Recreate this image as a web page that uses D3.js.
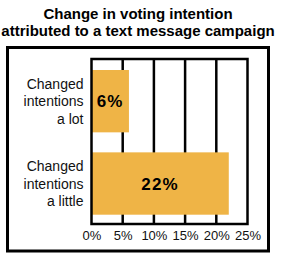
<!DOCTYPE html>
<html>
<head>
<meta charset="utf-8">
<script src="https://cdn.jsdelivr.net/npm/d3@7"></script>
<style>
  html, body { margin: 0; padding: 0; background: #fff; }
  svg { display: block; font-family: "Liberation Sans", Arial, Helvetica, sans-serif; }
</style>
</head>
<body>
<svg id="chart" width="302" height="255"></svg>
<script>
const titleLines = ["Change in voting intention", "attributed to a text message campaign"];
const categories = [
  ["Changed", "intentions", "a lot"],
  ["Changed", "intentions", "a little"]
];
const values = [6, 22];
const tickValues = [0, 5, 10, 15, 20, 25];
const tickLabels = ["0%", "5%", "10%", "15%", "20%", "25%"];

const svg = d3.select("#chart");
const barColor = "#EFB446";

// outer frame
svg.append("rect")
  .attr("x", 7.5).attr("y", 47.5)
  .attr("width", 261).attr("height", 203.5)
  .attr("fill", "none").attr("stroke", "#000").attr("stroke-width", 3);

// title
svg.append("g").selectAll("text").data(titleLines).join("text")
  .attr("x", 138).attr("y", (d, i) => 18.5 + i * 17.7)
  .attr("text-anchor", "middle")
  .attr("font-weight", "bold").attr("font-size", 15)
  .text(d => d);

const x = d3.scaleLinear().domain([0, 25]).range([91.5, 247.5]);
const y = d3.scaleBand().domain(d3.range(values.length)).range([70, 214.7]).paddingInner(0.243).paddingOuter(0);
const plotTop = 59, plotBottom = 224;

// bars
svg.append("g").selectAll("rect").data(values).join("rect")
  .attr("x", x(0)).attr("y", (d, i) => y(i))
  .attr("width", d => x(d) - x(0)).attr("height", y.bandwidth())
  .attr("fill", barColor);

// gridlines (drawn over bars for the portion visible between? reference shows grid behind bars)
const grid = svg.insert("g", "g");
grid.selectAll("line").data(tickValues.slice(1, -1)).join("line")
  .attr("x1", d => x(d)).attr("x2", d => x(d))
  .attr("y1", plotTop).attr("y2", plotBottom)
  .attr("stroke", "#000").attr("stroke-width", 2.5);

// plot frame
svg.append("rect")
  .attr("x", x(0)).attr("y", plotTop)
  .attr("width", x(25) - x(0)).attr("height", plotBottom - plotTop)
  .attr("fill", "none").attr("stroke", "#000").attr("stroke-width", 2.5);

// bar value labels
svg.append("g").selectAll("text").data(values).join("text")
  .attr("x", d => (x(0) + x(d)) / 2)
  .attr("y", (d, i) => y(i) + y.bandwidth() / 2 + 6)
  .attr("text-anchor", "middle")
  .attr("font-weight", "bold").attr("font-size", 17)
  .attr("letter-spacing", 1.2)
  .text(d => d + "%");

// category labels
const cat = svg.append("g").selectAll("text").data(categories).join("text")
  .attr("text-anchor", "end")
  .attr("font-size", 14)
  .attr("fill", "#111");
cat.each(function(lines, i) {
  const cy = y(i) + y.bandwidth() / 2 + 5;
  d3.select(this).selectAll("tspan").data(lines).join("tspan")
    .attr("x", 83.5)
    .attr("y", (d, j) => cy + (j - 1) * 17.6)
    .text(d => d);
});

// x axis
const axis = d3.axisBottom(x).tickValues(tickValues).tickFormat((d, i) => tickLabels[i]).tickSize(0).tickPadding(0);
const ax = svg.append("g").attr("transform", `translate(0,${plotBottom})`).call(axis);
ax.select(".domain").remove();
ax.selectAll("text")
  .attr("font-size", 13)
  .attr("font-family", "Liberation Sans, Arial, sans-serif")
  .attr("fill", "#111")
  .attr("dy", 0)
  .attr("y", 16);
</script>
</body>
</html>
